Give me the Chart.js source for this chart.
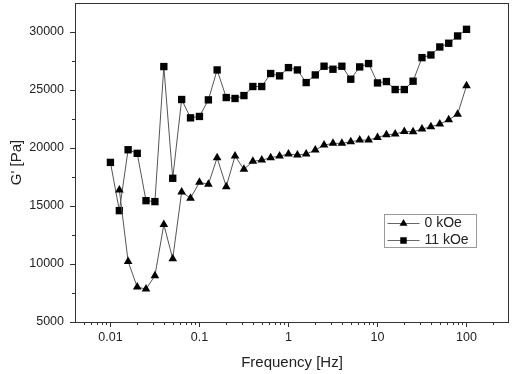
<!DOCTYPE html>
<html>
<head>
<meta charset="utf-8">
<script src="https://cdn.jsdelivr.net/npm/chart.js@4/dist/chart.umd.min.js"></script>
<style>
  html, body { margin: 0; padding: 0; background: #fff; }
</style>
</head>
<body>
<canvas id="gprime_chart" width="514" height="374"></canvas>
<script>
// frequency sweep, 10 points per decade
var frequencies = [0.01, 0.0126, 0.0158, 0.02, 0.0251, 0.0316, 0.0398, 0.0501, 0.0631, 0.0794,
                   0.1, 0.126, 0.158, 0.2, 0.251, 0.316, 0.398, 0.501, 0.631, 0.794,
                   1, 1.26, 1.58, 2, 2.51, 3.16, 3.98, 5.01, 6.31, 7.94,
                   10, 12.6, 15.8, 20, 25.1, 31.6, 39.8, 50.1, 63.1, 79.4, 100];

var g_0koe = [null, 16380, 10220, 8010, 7840, 8990, 13400, 10450, 16210, 15670,
              17040, 16870, 19160, 16670, 19310, 18160, 18850, 18960, 19160, 19310,
              19480, 19390, 19480, 19820, 20250, 20400, 20400, 20540, 20680, 20680,
              20910, 21140, 21200, 21430, 21400, 21630, 21830, 22060, 22430, 22920, 25360];

var g_11koe = [18760, 14600, 19850, 19540, 15460, 15380, 27020, 17390, 24180, 22600,
               22720, 24150, 26730, 24350, 24270, 24520, 25300, 25300, 26420, 26220,
               26930, 26730, 25640, 26300, 27050, 26790, 27050, 25930, 26990, 27280,
               25610, 25730, 25040, 25040, 25760, 27790, 28020, 28710, 29030, 29660, 30230];

var series_labels = ['0 kOe', '11 kOe'];

var x_major_ticks = [0.01, 0.1, 1, 10, 100];
var x_major_labels = ['0.01', '0.1', '1', '10', '100'];
var x_minor_ticks = [0.005, 0.006, 0.007, 0.008, 0.009,
                     0.02, 0.03, 0.04, 0.05, 0.06, 0.07, 0.08, 0.09,
                     0.2, 0.3, 0.4, 0.5, 0.6, 0.7, 0.8, 0.9,
                     2, 3, 4, 5, 6, 7, 8, 9,
                     20, 30, 40, 50, 60, 70, 80, 90, 200];
var y_major_ticks = [5000, 10000, 15000, 20000, 25000, 30000];
var y_minor_ticks = [7500, 12500, 17500, 22500, 27500];

var axis_color = '#333';
var text_color = '#222';
var font_family = '"Liberation Sans", Arial, sans-serif';

function toPoints(ys) {
    var pts = [];
    for (let i = 0; i < frequencies.length; i++) {
        pts.push({x: frequencies[i], y: ys[i]});
    }
    return pts;
}

// frame, minor ticks and the boxed legend inside the plot
const framePlugin = {
    id: 'framePlugin',
    afterDraw(chart) {
        const ctx = chart.ctx;
        const area = chart.chartArea;
        const xs = chart.scales.x, ys = chart.scales.y;
        ctx.save();
        ctx.strokeStyle = axis_color;
        ctx.lineWidth = 1;
        ctx.strokeRect(Math.round(area.left) + 0.5, Math.round(area.top) + 0.5,
                       Math.round(area.right - area.left) - 1, Math.round(area.bottom - area.top));
        ctx.beginPath();
        x_minor_ticks.forEach(function (v) {
            const px = Math.round(xs.getPixelForValue(v)) + 0.5;
            ctx.moveTo(px, area.bottom);
            ctx.lineTo(px, area.bottom + 3);
        });
        y_minor_ticks.forEach(function (v) {
            const py = Math.round(ys.getPixelForValue(v)) + 0.5;
            ctx.moveTo(area.left, py);
            ctx.lineTo(area.left - 3, py);
        });
        ctx.stroke();

        // legend
        const lx = Math.round(area.right) - 124.5, ly = Math.round(area.top) + 211.5;
        ctx.strokeStyle = '#999';
        ctx.strokeRect(lx, ly, 92, 33);
        ctx.font = '14px ' + font_family;
        ctx.textBaseline = 'middle';
        chart.data.datasets.forEach(function (ds, i) {
            const ry = ly + 9 + i * 17;
            ctx.strokeStyle = '#666';
            ctx.beginPath();
            ctx.moveTo(lx + 3, ry);
            ctx.lineTo(lx + 35, ry);
            ctx.stroke();
            ctx.fillStyle = '#000';
            Chart.helpers.drawPoint(ctx, {pointStyle: ds.pointStyle, radius: 4.6, rotation: 0, borderWidth: 0}, lx + 19, ry);
            ctx.fillStyle = text_color;
            ctx.fillText(ds.label, lx + 40, ry);
        });
        ctx.restore();
    }
};

const data = {
    datasets: [
        {
            label: series_labels[0],
            data: toPoints(g_0koe),
            pointStyle: 'triangle',
            pointRadius: 5,
            borderColor: '#555',
            borderWidth: 1,
            pointBackgroundColor: '#000',
            pointBorderColor: '#000',
            pointBorderWidth: 0,
            tension: 0
        },
        {
            label: series_labels[1],
            data: toPoints(g_11koe),
            pointStyle: 'rect',
            pointRadius: 5.2,
            borderColor: '#555',
            borderWidth: 1,
            pointBackgroundColor: '#000',
            pointBorderColor: '#000',
            pointBorderWidth: 0,
            tension: 0
        }
    ]
};

const config = {
    type: 'line',
    data: data,
    options: {
        responsive: false,
        animation: false,
        layout: {
            autoPadding: false,
            padding: {top: 3, right: 5, left: 0, bottom: 0}
        },
        plugins: {
            legend: {display: false},
            tooltip: {enabled: false},
            title: {display: false}
        },
        scales: {
            x: {
                type: 'logarithmic',
                min: 0.004,
                max: 300,
                afterFit: function (scale) {
                    scale.height = 52;
                    scale.paddingLeft = 0;
                    scale.paddingRight = 0;
                },
                afterBuildTicks: function (scale) {
                    scale.ticks = x_major_ticks.map(function (v) { return {value: v}; });
                },
                ticks: {
                    autoSkip: false,
                    maxRotation: 0,
                    padding: 3,
                    color: text_color,
                    font: {family: font_family, size: 12.5},
                    callback: function (value) {
                        const i = x_major_ticks.indexOf(value);
                        return i >= 0 ? x_major_labels[i] : '';
                    }
                },
                grid: {
                    drawOnChartArea: false,
                    drawTicks: true,
                    tickLength: 5,
                    tickColor: axis_color
                },
                border: {display: false},
                title: {
                    display: true,
                    text: 'Frequency [Hz]',
                    color: text_color,
                    font: {family: font_family, size: 15},
                    padding: {top: 0, bottom: 2}
                }
            },
            y: {
                min: 5000,
                max: 32500,
                afterFit: function (scale) {
                    scale.width = 75;
                    scale.paddingTop = 0;
                    scale.paddingBottom = 0;
                },
                afterBuildTicks: function (scale) {
                    scale.ticks = y_major_ticks.map(function (v) { return {value: v}; });
                },
                ticks: {
                    padding: 6,
                    color: text_color,
                    font: {family: font_family, size: 12.5},
                    callback: function (value) { return String(value); }
                },
                grid: {
                    drawOnChartArea: false,
                    drawTicks: true,
                    tickLength: 5,
                    tickColor: axis_color
                },
                border: {display: false},
                title: {
                    display: true,
                    text: "G' [Pa]",
                    color: text_color,
                    font: {family: font_family, size: 15},
                    padding: {top: 8, bottom: 0}
                }
            }
        }
    },
    plugins: [framePlugin]
};

const myChart = new Chart(document.getElementById('gprime_chart'), config);
</script>
</body>
</html>
